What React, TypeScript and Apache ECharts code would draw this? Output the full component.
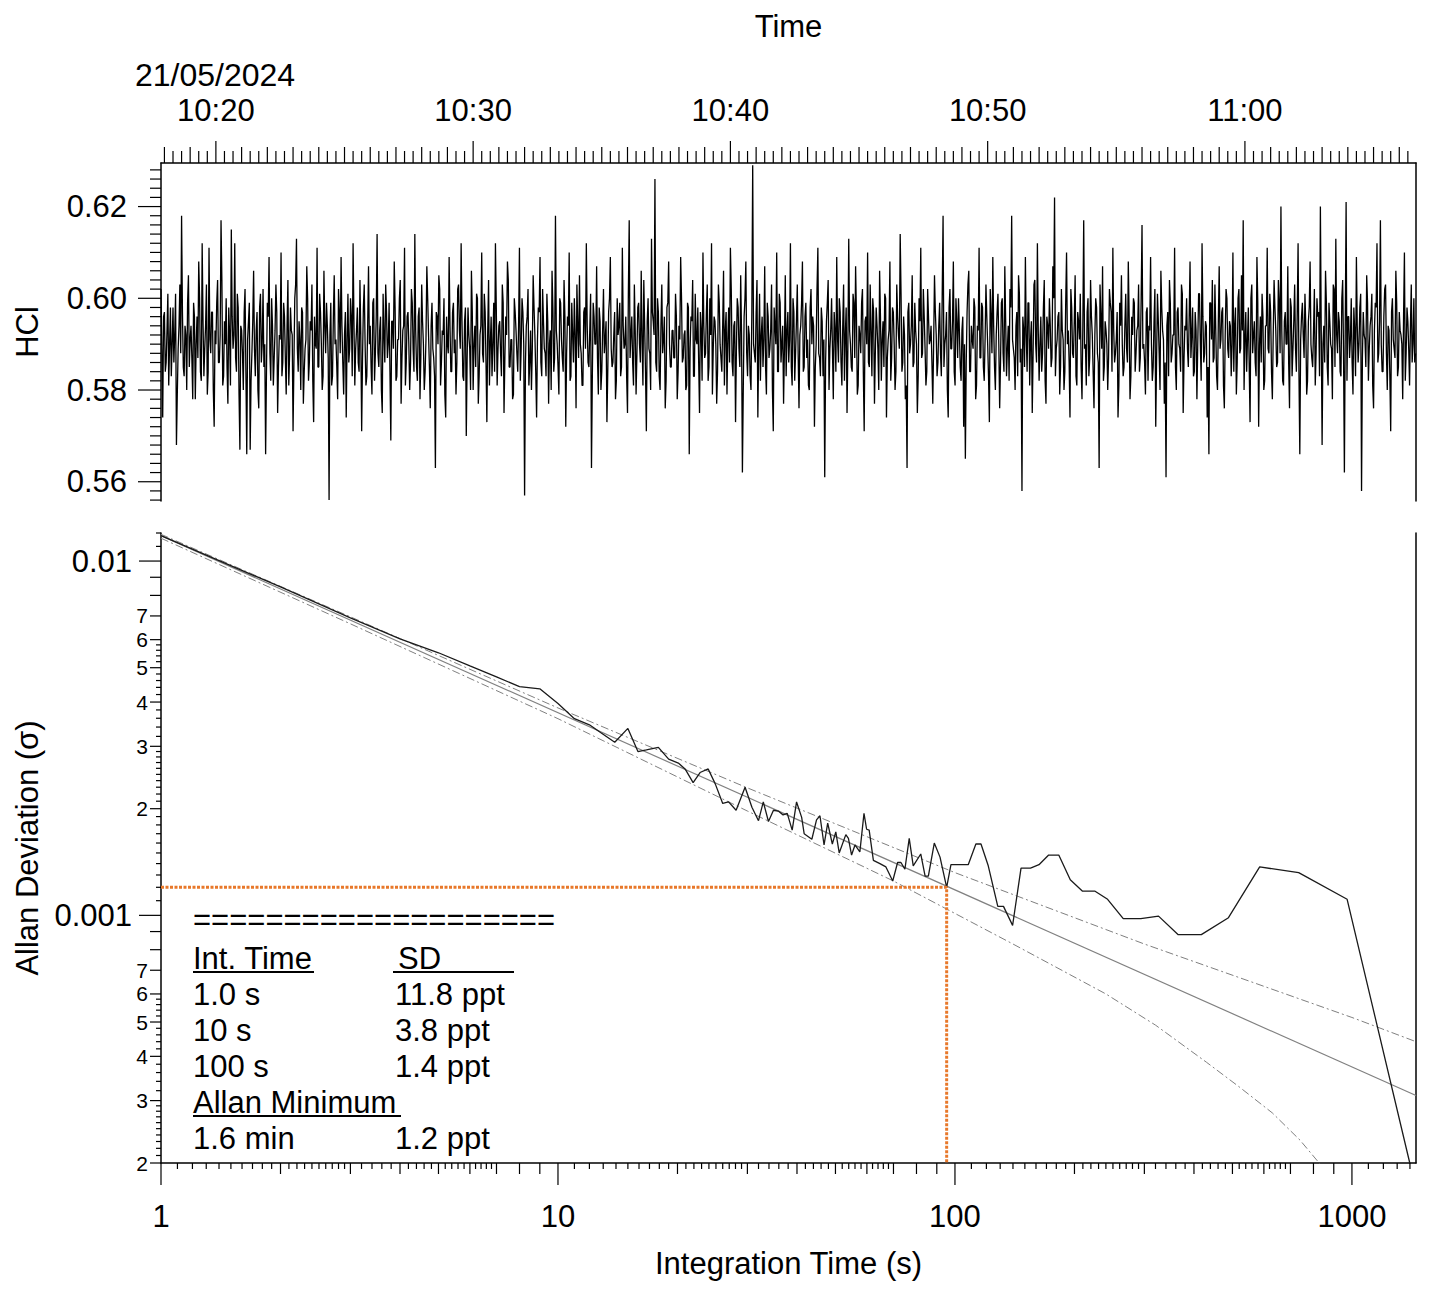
import React, { useEffect, useRef } from "react";
import * as echarts from "echarts";

const FONT = "'Liberation Sans', Arial, Helvetica, sans-serif";

// ---------- Top panel: HCl time series (2 s sampling from 10:17:52) ----------
const startTime = new Date(2024, 4, 21, 10, 17, 52).getTime();
const endTime = new Date(2024, 4, 21, 11, 6, 39).getTime();
const hclMin = 0.5558;
const hclMax = 0.6295;

// samples at t0 + 4k seconds
const hclSeg1 = [
  0.602, 0.574, 0.597, 0.586, 0.601, 0.590, 0.583, 0.598, 0.592, 0.568, 0.589, 0.603, 0.618, 0.585, 0.594, 0.580, 0.605, 0.591, 0.587, 0.599, 0.578, 0.596, 0.608, 0.584,
  0.612, 0.583, 0.594, 0.579, 0.611, 0.588, 0.597, 0.572, 0.590, 0.604, 0.586, 0.617, 0.581, 0.595, 0.600, 0.577, 0.592, 0.615, 0.589, 0.612, 0.584, 0.598, 0.567, 0.593,
  0.580, 0.602, 0.566, 0.595, 0.567, 0.588, 0.606, 0.583, 0.597, 0.576, 0.601, 0.590, 0.585, 0.566, 0.599, 0.609, 0.582, 0.594, 0.587, 0.603, 0.575, 0.592, 0.610, 0.586,
  0.596, 0.579, 0.604, 0.588, 0.593, 0.571, 0.600, 0.613, 0.584, 0.591, 0.598, 0.577, 0.589, 0.607, 0.582, 0.595, 0.603, 0.573, 0.590, 0.611, 0.585, 0.597, 0.580, 0.606,
  0.588, 0.594, 0.556, 0.599, 0.583, 0.605, 0.591, 0.578, 0.597, 0.609, 0.586, 0.592, 0.574, 0.601, 0.589, 0.596, 0.612, 0.581, 0.593, 0.586, 0.604, 0.571, 0.598, 0.590,
  0.583, 0.607, 0.594, 0.579, 0.600, 0.588, 0.614, 0.585, 0.596, 0.575, 0.592, 0.603, 0.587, 0.599, 0.569, 0.595, 0.608, 0.582, 0.591, 0.600, 0.577, 0.593, 0.611, 0.586,
  0.597, 0.580, 0.602, 0.589,
];
const hclSeg2 = [
  0.614, 0.585, 0.596, 0.578, 0.603, 0.590, 0.584, 0.607, 0.592, 0.576, 0.599, 0.587, 0.563, 0.596, 0.605, 0.581, 0.593, 0.600, 0.574, 0.590, 0.609, 0.584, 0.597, 0.588,
  0.579, 0.602, 0.593, 0.612, 0.583, 0.595, 0.570, 0.598, 0.589, 0.606, 0.580, 0.594, 0.601, 0.577, 0.592, 0.610, 0.586, 0.597, 0.573, 0.604, 0.590, 0.583, 0.599, 0.612,
  0.581, 0.594, 0.588, 0.603, 0.575, 0.596, 0.608, 0.585, 0.591, 0.578, 0.600, 0.593, 0.584, 0.611, 0.589, 0.597, 0.557, 0.594, 0.602, 0.586, 0.580, 0.605, 0.592, 0.574,
  0.598, 0.609, 0.583, 0.595, 0.588, 0.601, 0.577, 0.593, 0.606, 0.584, 0.618, 0.590, 0.579, 0.599, 0.587, 0.604, 0.572, 0.596, 0.610, 0.583, 0.592, 0.600, 0.576, 0.594,
  0.605, 0.588, 0.581, 0.598, 0.612, 0.586, 0.593, 0.563, 0.599, 0.590, 0.607, 0.579, 0.595, 0.584, 0.602, 0.591, 0.573, 0.597, 0.609, 0.585, 0.592, 0.578, 0.600, 0.594,
  0.583, 0.611, 0.589, 0.596, 0.575, 0.617, 0.592, 0.586, 0.603, 0.579, 0.598, 0.590, 0.606, 0.581, 0.594, 0.571, 0.600, 0.588, 0.613, 0.595, 0.626, 0.584, 0.597, 0.580,
  0.603, 0.591, 0.576, 0.598, 0.608, 0.585, 0.593, 0.587,
];
const hclSeg3 = [
  0.601, 0.578, 0.594, 0.609, 0.586, 0.592, 0.580, 0.599, 0.566, 0.596, 0.604, 0.583, 0.591, 0.598, 0.575, 0.593, 0.610, 0.587, 0.597, 0.582, 0.600, 0.612, 0.589, 0.595,
  0.577, 0.603, 0.590, 0.584, 0.606, 0.593, 0.579, 0.598, 0.611, 0.586, 0.594, 0.573, 0.600, 0.589, 0.605, 0.562, 0.596, 0.608, 0.583, 0.592, 0.580, 0.629, 0.588, 0.597,
  0.574, 0.601, 0.592, 0.585, 0.607, 0.579, 0.596, 0.589, 0.603, 0.571, 0.594, 0.610, 0.584, 0.599, 0.590, 0.577, 0.605, 0.593, 0.586, 0.612, 0.581, 0.597, 0.588, 0.603,
  0.576, 0.594, 0.608, 0.585, 0.599, 0.591, 0.580, 0.602, 0.596, 0.572, 0.590, 0.611, 0.587, 0.598, 0.583, 0.561, 0.595, 0.604, 0.589, 0.600, 0.578, 0.593, 0.609, 0.586,
  0.597, 0.581, 0.603, 0.592, 0.575, 0.613, 0.590, 0.584, 0.599, 0.607, 0.579, 0.594, 0.588, 0.602, 0.571, 0.596, 0.610, 0.585, 0.593, 0.600, 0.577, 0.598, 0.589, 0.606,
  0.582, 0.595, 0.601, 0.574, 0.591, 0.608, 0.587, 0.597, 0.580, 0.603, 0.592, 0.614, 0.584, 0.596, 0.578, 0.563, 0.599, 0.590, 0.605, 0.586, 0.593, 0.575, 0.600, 0.611,
  0.588, 0.596, 0.581, 0.602, 0.590, 0.594,
];
const hclSeg4 = [
  0.577, 0.605, 0.592, 0.586, 0.599, 0.583, 0.618, 0.590, 0.597, 0.574, 0.602, 0.589, 0.608, 0.581, 0.595, 0.600, 0.585, 0.593, 0.572, 0.565, 0.597, 0.606, 0.584, 0.591,
  0.600, 0.578, 0.594, 0.611, 0.587, 0.598, 0.582, 0.603, 0.590, 0.573, 0.596, 0.609, 0.585, 0.592, 0.601, 0.576, 0.599, 0.588, 0.607, 0.583, 0.594, 0.602, 0.618, 0.589,
  0.580, 0.597, 0.605, 0.586, 0.558, 0.593, 0.609, 0.584, 0.599, 0.591, 0.575, 0.603, 0.590, 0.612, 0.582, 0.596, 0.588, 0.604, 0.577, 0.594, 0.600, 0.585, 0.607, 0.622,
  0.589, 0.596, 0.579, 0.602, 0.591, 0.584, 0.610, 0.593, 0.574, 0.598, 0.587, 0.605, 0.581, 0.595, 0.601, 0.578, 0.617, 0.590, 0.597, 0.583, 0.604, 0.592, 0.576, 0.600,
  0.588, 0.563, 0.596, 0.607, 0.585, 0.593, 0.580, 0.602, 0.597, 0.611, 0.586, 0.591, 0.574, 0.599, 0.605, 0.583, 0.594, 0.589, 0.608, 0.578, 0.596, 0.600, 0.584, 0.593,
  0.603, 0.587, 0.616, 0.590, 0.579, 0.598, 0.594, 0.609, 0.582, 0.595, 0.572, 0.601, 0.588, 0.606, 0.593, 0.577, 0.561, 0.597, 0.604, 0.586, 0.592, 0.611, 0.580, 0.598,
  0.589, 0.603, 0.575, 0.594, 0.600, 0.585,
];
const hclSeg5 = [
  0.608, 0.592, 0.583, 0.597, 0.578, 0.601, 0.590, 0.612, 0.586, 0.595, 0.574, 0.566, 0.599, 0.604, 0.587, 0.593, 0.580, 0.607, 0.591, 0.598, 0.576, 0.602, 0.589, 0.595,
  0.583, 0.610, 0.594, 0.579, 0.600, 0.588, 0.605, 0.617, 0.591, 0.584, 0.598, 0.573, 0.603, 0.592, 0.586, 0.609, 0.572, 0.596, 0.601, 0.580, 0.594, 0.611, 0.588, 0.597,
  0.578, 0.604, 0.593, 0.586, 0.599, 0.620, 0.582, 0.595, 0.590, 0.607, 0.576, 0.598, 0.589, 0.603, 0.584, 0.612, 0.566, 0.596, 0.592, 0.601, 0.579, 0.595, 0.608, 0.587,
  0.593, 0.581, 0.600, 0.597, 0.620, 0.568, 0.594, 0.606, 0.585, 0.599, 0.590, 0.578, 0.602, 0.613, 0.588, 0.595, 0.583, 0.604, 0.562, 0.621, 0.596, 0.587, 0.600, 0.579,
  0.593, 0.609, 0.586, 0.598, 0.558, 0.597, 0.591, 0.605, 0.582, 0.594, 0.601, 0.576, 0.599, 0.612, 0.588, 0.617, 0.584, 0.596, 0.603, 0.580, 0.593, 0.571, 0.600, 0.589,
  0.606, 0.583, 0.597, 0.592, 0.578, 0.610, 0.588, 0.595, 0.581, 0.603, 0.590, 0.586,
];

// samples at t0 + 4k + 2 seconds
const hclOdd1 = [
  0.589, 0.596, 0.584, 0.593, 0.581, 0.598, 0.590, 0.586, 0.601, 0.579, 0.594, 0.588, 0.597, 0.583, 0.592, 0.599, 0.585, 0.594, 0.578, 0.596, 0.590, 0.587, 0.600, 0.582,
  0.595, 0.589, 0.603, 0.584, 0.591, 0.597, 0.580, 0.593, 0.599, 0.586, 0.592, 0.604, 0.583, 0.590, 0.585, 0.598, 0.581, 0.596, 0.592, 0.587, 0.601, 0.579, 0.594, 0.588,
  0.597, 0.584, 0.591, 0.599, 0.582, 0.595, 0.589, 0.593, 0.580, 0.598, 0.586, 0.602, 0.590, 0.584, 0.596, 0.588, 0.600, 0.581, 0.593, 0.597, 0.585, 0.591, 0.583, 0.599,
  0.587, 0.594, 0.581, 0.598, 0.592, 0.586, 0.603, 0.589, 0.595, 0.580, 0.597, 0.584, 0.591, 0.600, 0.586, 0.593, 0.582, 0.596, 0.589, 0.585, 0.601, 0.590, 0.583, 0.594,
  0.599, 0.587, 0.592, 0.581, 0.596, 0.590, 0.585, 0.602, 0.588, 0.594, 0.579, 0.597, 0.591, 0.586, 0.600, 0.583, 0.595, 0.589, 0.598, 0.584, 0.592, 0.587, 0.603, 0.581,
  0.594, 0.590, 0.585, 0.599, 0.582, 0.596, 0.588, 0.593, 0.580, 0.601, 0.586, 0.597, 0.590, 0.584, 0.595, 0.589, 0.598, 0.583, 0.591, 0.604, 0.587, 0.594, 0.581, 0.596,
  0.590, 0.586, 0.599, 0.584,
];
const hclOdd2 = [
  0.593, 0.582, 0.598, 0.587, 0.595, 0.580, 0.591, 0.600, 0.585, 0.594, 0.589, 0.583, 0.597, 0.590, 0.602, 0.586, 0.592, 0.579, 0.596, 0.588, 0.594, 0.584, 0.599, 0.591,
  0.586, 0.603, 0.589, 0.595, 0.582, 0.598, 0.587, 0.592, 0.580, 0.597, 0.590, 0.585, 0.600, 0.583, 0.594, 0.588, 0.601, 0.586, 0.593, 0.581, 0.596, 0.590, 0.584, 0.598,
  0.589, 0.595, 0.583, 0.599, 0.587, 0.592, 0.604, 0.585, 0.591, 0.579, 0.597, 0.588, 0.594, 0.582, 0.600, 0.590, 0.586, 0.596, 0.581, 0.593, 0.589, 0.598, 0.584, 0.591,
  0.597, 0.586, 0.602, 0.589, 0.583, 0.595, 0.590, 0.580, 0.598, 0.587, 0.593, 0.585, 0.600, 0.591, 0.584, 0.596, 0.588, 0.594, 0.582, 0.599, 0.586, 0.592, 0.603, 0.587,
  0.590, 0.581, 0.597, 0.589, 0.594, 0.585, 0.601, 0.583, 0.596, 0.590, 0.587, 0.598, 0.580, 0.593, 0.588, 0.595, 0.584, 0.600, 0.589, 0.586, 0.597, 0.582, 0.592, 0.599,
  0.585, 0.594, 0.590, 0.583, 0.601, 0.587, 0.596, 0.581, 0.593, 0.588, 0.599, 0.586, 0.591, 0.604, 0.584, 0.595, 0.589, 0.580, 0.597, 0.592, 0.586, 0.600, 0.583, 0.594,
  0.588, 0.596, 0.582, 0.599, 0.590, 0.585, 0.593, 0.587,
];
const hclOdd3 = [
  0.596, 0.584, 0.591, 0.600, 0.587, 0.593, 0.581, 0.598, 0.589, 0.595, 0.583, 0.601, 0.590, 0.586, 0.597, 0.582, 0.594, 0.588, 0.603, 0.585, 0.592, 0.579, 0.596, 0.590,
  0.584, 0.599, 0.587, 0.594, 0.581, 0.597, 0.591, 0.586, 0.602, 0.583, 0.595, 0.589, 0.598, 0.585, 0.592, 0.580, 0.600, 0.588, 0.594, 0.583, 0.597, 0.590, 0.586, 0.604,
  0.589, 0.582, 0.596, 0.591, 0.585, 0.599, 0.587, 0.593, 0.580, 0.598, 0.590, 0.584, 0.601, 0.586, 0.594, 0.589, 0.583, 0.597, 0.591, 0.585, 0.600, 0.582, 0.595, 0.588,
  0.592, 0.599, 0.584, 0.596, 0.587, 0.581, 0.598, 0.590, 0.594, 0.585, 0.602, 0.588, 0.583, 0.595, 0.591, 0.586, 0.599, 0.580, 0.593, 0.589, 0.597, 0.584, 0.591, 0.600,
  0.586, 0.594, 0.582, 0.598, 0.589, 0.593, 0.585, 0.601, 0.587, 0.596, 0.581, 0.592, 0.599, 0.584, 0.595, 0.590, 0.586, 0.603, 0.583, 0.597, 0.588, 0.594, 0.580, 0.596,
  0.591, 0.585, 0.600, 0.587, 0.593, 0.582, 0.598, 0.590, 0.584, 0.596, 0.589, 0.601, 0.586, 0.592, 0.581, 0.597, 0.588, 0.594, 0.585, 0.599, 0.590, 0.583, 0.595, 0.587,
  0.602, 0.589, 0.584, 0.596, 0.591, 0.586,
];
const hclOdd4 = [
  0.590, 0.597, 0.583, 0.594, 0.588, 0.601, 0.585, 0.592, 0.580, 0.598, 0.589, 0.595, 0.584, 0.600, 0.587, 0.593, 0.582, 0.596, 0.590, 0.586, 0.603, 0.584, 0.594, 0.589,
  0.598, 0.581, 0.593, 0.587, 0.599, 0.585, 0.591, 0.596, 0.583, 0.602, 0.588, 0.594, 0.580, 0.597, 0.590, 0.586, 0.600, 0.584, 0.595, 0.589, 0.582, 0.598, 0.591, 0.587,
  0.594, 0.583, 0.601, 0.589, 0.596, 0.585, 0.592, 0.599, 0.581, 0.595, 0.588, 0.604, 0.586, 0.593, 0.590, 0.584, 0.598, 0.582, 0.596, 0.589, 0.594, 0.587, 0.600, 0.583,
  0.591, 0.597, 0.585, 0.593, 0.580, 0.599, 0.590, 0.586, 0.602, 0.588, 0.595, 0.583, 0.597, 0.591, 0.585, 0.594, 0.589, 0.581, 0.600, 0.587, 0.596, 0.584, 0.592, 0.598,
  0.586, 0.603, 0.589, 0.582, 0.595, 0.590, 0.587, 0.599, 0.584, 0.593, 0.588, 0.597, 0.581, 0.594, 0.590, 0.585, 0.601, 0.586, 0.596, 0.583, 0.592, 0.599, 0.588, 0.594,
  0.584, 0.600, 0.589, 0.586, 0.597, 0.582, 0.593, 0.590, 0.585, 0.602, 0.587, 0.595, 0.580, 0.598, 0.591, 0.586, 0.594, 0.583, 0.599, 0.588, 0.592, 0.585, 0.597, 0.590,
  0.584, 0.601, 0.587, 0.593, 0.589, 0.596,
];
const hclOdd5 = [
  0.587, 0.598, 0.584, 0.593, 0.590, 0.601, 0.582, 0.596, 0.588, 0.594, 0.585, 0.599, 0.591, 0.586, 0.603, 0.583, 0.595, 0.589, 0.597, 0.581, 0.592, 0.600, 0.587, 0.594,
  0.590, 0.584, 0.598, 0.586, 0.602, 0.589, 0.593, 0.580, 0.597, 0.591, 0.585, 0.600, 0.588, 0.595, 0.583, 0.599, 0.590, 0.586, 0.596, 0.582, 0.594, 0.589, 0.601, 0.584,
  0.592, 0.598, 0.585, 0.604, 0.588, 0.593, 0.581, 0.597, 0.590, 0.586, 0.600, 0.583, 0.595, 0.589, 0.597, 0.584, 0.591, 0.599, 0.587, 0.594, 0.582, 0.598, 0.590, 0.585,
  0.602, 0.588, 0.596, 0.583, 0.593, 0.590, 0.586, 0.599, 0.581, 0.595, 0.589, 0.603, 0.585, 0.592, 0.597, 0.584, 0.600, 0.588, 0.594, 0.582, 0.596, 0.591, 0.586, 0.598,
  0.583, 0.594, 0.590, 0.601, 0.587, 0.592, 0.585, 0.599, 0.589, 0.596, 0.581, 0.593, 0.598, 0.586, 0.595, 0.590, 0.584, 0.602, 0.588, 0.594, 0.583, 0.597, 0.591, 0.587,
  0.599, 0.585, 0.593, 0.590, 0.596, 0.582, 0.598, 0.589, 0.594, 0.586, 0.600, 0.588,
];

const timeLabels = ["10:20", "10:30", "10:40", "10:50", "11:00"];
const hclLabels = [0.56, 0.58, 0.6, 0.62];
const dateLabel = "21/05/2024";

// ---------- Bottom panel: Allan deviation ----------
const tauMin = 1;
const tauMax = 1450;
const sigmaMin = 0.0002;
const sigmaMax = 0.012;

const allanTau = [
  1, 2, 3, 4, 5, 6, 7, 8, 9, 10,
  11.0, 12.0, 12.8, 13.9, 15.0, 15.9, 16.7, 17.9, 19.0, 20.1,
  20.9, 21.9, 22.8, 23.9, 24.9, 26.0, 26.9, 28.1, 29.6, 30.8,
  32.0, 32.9, 33.9, 34.9, 35.9, 36.9, 37.8, 38.9, 39.9, 41.1,
  41.7, 43.6, 44.8, 45.7, 46.8, 47.8, 49.1, 50.1, 51.1, 53.1,
  53.9, 54.9, 56.0, 57.6, 59.0, 59.9, 60.8, 62.3, 64.7, 67.0,
  69.7, 71.7, 73.1, 74.8, 76.7, 78.5, 82.0, 84.1, 85.7, 88.7,
  91.7, 95.3, 97.7, 108, 112.9, 116.3, 121.3, 128.2, 132.5, 139.7,
  146.7, 155, 162.8, 172.2, 182.6, 195.2, 209.6, 225.4, 242.4, 265.4,
  293.9, 325.7, 365.1, 417.4, 488.6, 585.6, 734.2, 972.5, 1400,
];
const allanSigma = [
  0.0118, 0.00845, 0.00691, 0.00603, 0.00551, 0.00506, 0.00471, 0.00442, 0.00436, 0.00396,
  0.00359, 0.00345, 0.00328, 0.00308, 0.00337, 0.0029, 0.00293, 0.00298, 0.00276, 0.00269,
  0.00259, 0.00237, 0.00253, 0.00259, 0.00235, 0.00207, 0.00209, 0.00198, 0.0023, 0.00202,
  0.00185, 0.00209, 0.00184, 0.00198, 0.00197, 0.00192, 0.00194, 0.00174, 0.00209, 0.00189,
  0.0017, 0.00164, 0.00186, 0.00191, 0.00158, 0.00182, 0.00159, 0.00172, 0.0015, 0.00169,
  0.00165, 0.00148, 0.00158, 0.00151, 0.00194, 0.00175, 0.00174, 0.00143, 0.0014, 0.00137,
  0.00125, 0.00141, 0.00141, 0.00135, 0.00165, 0.00138, 0.00149, 0.00129, 0.00129, 0.0016,
  0.00146, 0.0012, 0.00139, 0.00139, 0.00159, 0.00159, 0.00138, 0.00106, 0.00106, 0.000937,
  0.00136, 0.00136, 0.00139, 0.00148, 0.00148, 0.00126, 0.00117, 0.00117, 0.00111, 0.000979,
  0.000979, 0.000995, 0.000882, 0.000882, 0.000985, 0.00137, 0.00132, 0.00111, 0.000199,
];

// white-noise fit (slope -1/2)
const fitTau = [1, 1450];
const fitSigma = [0.0118, 0.00031];

// confidence envelope (dash-dot)
const upperTau = [1, 3, 10, 30, 100, 300, 1000, 1450];
const upperSigma = [0.0119, 0.00696, 0.00385, 0.00229, 0.00132, 0.00083, 0.000515, 0.00044];
const lowerTau = [1, 3, 10, 30, 70, 140, 240, 320, 430, 520, 630, 740, 830, 900];
const lowerSigma = [0.0116, 0.00665, 0.00359, 0.00197, 0.00125, 0.00083, 0.0006, 0.00049, 0.000385, 0.000328, 0.000277, 0.000232, 0.000199, 0.000175];

// Allan minimum marker
const allanMinTau = 95.3;
const allanMinSigma = 0.0012;

// Annotation table
const separator = "====================";
const tableHeader = ["Int. Time", "SD"];
const tableRows = [
  ["1.0 s", "11.8 ppt"],
  ["10 s", "3.8 ppt"],
  ["100 s", "1.4 ppt"],
];
const minHeader = "Allan Minimum";
const minRow = ["1.6 min", "1.2 ppt"];

// Log axis tick mantissas
const logDecadesX = [1, 10, 100, 1000];
const logDecadesY = [0.0001, 0.001, 0.01];
const mediumMantissa = [2, 3, 4, 5, 6, 7, 8, 9];
const shortMantissaX = [1.1, 1.2, 1.3, 1.4, 1.5, 1.6, 1.7, 1.8, 1.9, 2.1, 2.2, 2.3, 2.4, 2.5, 2.6, 2.7, 2.8, 2.9, 3.2, 3.4, 3.6, 3.8, 4.2, 4.4, 4.6, 4.8, 5.2, 5.4, 5.6, 5.8, 6.2, 6.4, 6.6, 6.8];
const shortMantissaY = [1.1, 1.2, 1.3, 1.4, 1.5, 1.6, 1.7, 1.8, 1.9, 2.1, 2.2, 2.3, 2.4, 2.5, 2.6, 2.7, 2.8, 2.9, 3.2, 3.4, 3.6, 3.8, 4.2, 4.4, 4.6, 4.8, 5.2, 5.4, 5.6, 5.8];
const labelledMantissaY = [2, 3, 4, 5, 6, 7];

const hclEven = [...hclSeg1, ...hclSeg2, ...hclSeg3, ...hclSeg4, ...hclSeg5];
const hclOdd = [...hclOdd1, ...hclOdd2, ...hclOdd3, ...hclOdd4, ...hclOdd5];
const hclData: number[][] = [];
hclEven.forEach((v, i) => {
  hclData.push([startTime + i * 4000, v]);
  if (i < hclOdd.length) hclData.push([startTime + i * 4000 + 2000, hclOdd[i]]);
});
const zip = (a: number[], b: number[]) => a.map((v, i) => [v, b[i]]);
const labelTime = (s: string) => {
  const [h, m] = s.split(":").map(Number);
  return new Date(2024, 4, 21, h, m, 0).getTime();
};

const pad2 = (n: number) => (n < 10 ? "0" + n : "" + n);

function App() {
  const ref = useRef<HTMLDivElement>(null);
  useEffect(() => {
    if (!ref.current) return;
    const chart = echarts.init(ref.current, null, { renderer: "svg" });

    const tickLine = (x1: number, y1: number, x2: number, y2: number) => ({
      type: "line",
      shape: { x1, y1, x2, y2 },
      style: { stroke: "#000", lineWidth: 1.2 },
    });

    const renderTopTicks = (params: any, api: any) => {
      const children: any[] = [];
      const corner = api.coord([startTime, hclMax]);
      const left = corner[0];
      const top = corner[1];
      const first = new Date(2024, 4, 21, 10, 18, 0).getTime();
      for (let t = first; t <= endTime; t += 20000) {
        const d = new Date(t);
        const sec = d.getSeconds();
        const min = d.getMinutes();
        let len = 12;
        if (sec === 0) len = min % 10 === 0 ? 22 : 16;
        const px = api.coord([t, hclMax])[0];
        children.push(tickLine(px, top, px, top - len));
      }
      for (let k = 278; k <= 314; k++) {
        const v = k * 0.002;
        if (v < hclMin || v > hclMax) continue;
        const major = k % 10 === 0;
        const py = api.coord([startTime, v])[1];
        children.push(tickLine(left - (major ? 23 : 11), py, left, py));
      }
      return { type: "group", children };
    };

    const renderLogTicks = (params: any, api: any) => {
      const children: any[] = [];
      const corner = api.coord([tauMin, sigmaMin]);
      const left = corner[0];
      const bottom = corner[1];
      logDecadesX.forEach((dec) => {
        if (dec >= tauMin && dec <= tauMax) {
          const px = api.coord([dec, sigmaMin])[0];
          children.push(tickLine(px, bottom, px, bottom + 22));
        }
        mediumMantissa.forEach((m) => {
          const v = m * dec;
          if (v < tauMin || v > tauMax) return;
          const px = api.coord([v, sigmaMin])[0];
          children.push(tickLine(px, bottom, px, bottom + 11));
        });
        shortMantissaX.forEach((m) => {
          const v = m * dec;
          if (v < tauMin || v > tauMax) return;
          const px = api.coord([v, sigmaMin])[0];
          children.push(tickLine(px, bottom, px, bottom + 6));
        });
      });
      logDecadesY.forEach((dec) => {
        if (dec >= sigmaMin && dec <= sigmaMax) {
          const py = api.coord([tauMin, dec])[1];
          children.push(tickLine(left - 22, py, left, py));
        }
        mediumMantissa.forEach((m) => {
          const v = m * dec;
          if (v < sigmaMin * 0.999 || v > sigmaMax) return;
          const py = api.coord([tauMin, v])[1];
          children.push(tickLine(left - 11, py, left, py));
          if (labelledMantissaY.indexOf(m) >= 0) {
            children.push({
              type: "text",
              x: left - 13,
              y: py,
              style: {
                text: String(m),
                fill: "#000",
                fontSize: 21,
                fontFamily: FONT,
                align: "right",
                verticalAlign: "middle",
              },
            });
          }
        });
        shortMantissaY.forEach((m) => {
          const v = m * dec;
          if (v < sigmaMin || v > sigmaMax) return;
          const py = api.coord([tauMin, v])[1];
          children.push(tickLine(left - 5, py, left, py));
        });
      });
      return { type: "group", children };
    };

    const axisLineStyle = { show: true, onZero: false, lineStyle: { color: "#000", width: 1.5 } };
    const labelStyle = { color: "#000", fontSize: 31, fontFamily: FONT };
    const nameStyle = { color: "#000", fontSize: 31, fontFamily: FONT };

    const txt = (text: string, x: number, y: number, extra: any = {}) => ({
      type: "text",
      x,
      y,
      silent: true,
      style: { text, fill: "#000", fontSize: 31, fontFamily: FONT, align: "left", verticalAlign: "middle", ...extra },
    });
    const uline = (x1: number, x2: number, y: number) => ({
      type: "line",
      silent: true,
      shape: { x1, y1: y, x2, y2: y },
      style: { stroke: "#000", lineWidth: 2 },
    });

    const rowY = [994, 1030, 1066];
    const graphicEls: any[] = [
      txt(dateLabel, 135, 75, { fontSize: 32 }),
      txt(separator, 193, 919),
      txt(tableHeader[0], 193, 958),
      txt(tableHeader[1], 398, 958),
      uline(193, 314, 972),
      uline(393, 514, 972),
      ...tableRows.flatMap((r, i) => [txt(r[0], 193, rowY[i]), txt(r[1], 395, rowY[i])]),
      txt(minHeader, 193, 1102),
      uline(193, 401, 1116),
      txt(minRow[0], 193, 1138),
      txt(minRow[1], 395, 1138),
    ];

    const option: any = {
      animation: false,
      backgroundColor: "#fff",
      textStyle: { fontFamily: FONT },
      grid: [
        { left: 161, top: 163, width: 1255, height: 338, containLabel: false, outerBoundsMode: "none" },
        { left: 161, top: 533, width: 1255, height: 630, containLabel: false, outerBoundsMode: "none" },
      ],
      xAxis: [
        {
          gridIndex: 0,
          type: "value",
          position: "top",
          min: startTime,
          max: endTime,
          axisLine: axisLineStyle,
          axisTick: { show: false },
          splitLine: { show: false },
          axisLabel: {
            ...labelStyle,
            margin: 37,
            customValues: timeLabels.map(labelTime),
            formatter: (v: number) => {
              const d = new Date(v);
              return pad2(d.getHours()) + ":" + pad2(d.getMinutes());
            },
          },
          name: "Time",
          nameLocation: "middle",
          nameGap: 121,
          nameTextStyle: nameStyle,
        },
        {
          gridIndex: 1,
          type: "log",
          logBase: 10,
          position: "bottom",
          min: tauMin,
          max: tauMax,
          axisLine: axisLineStyle,
          axisTick: { show: false },
          splitLine: { show: false },
          minorTick: { show: false },
          axisLabel: {
            ...labelStyle,
            margin: 38,
            showMinLabel: true,
            showMaxLabel: false,
            formatter: (v: number) => String(Math.round(v)),
          },
          name: "Integration Time (s)",
          nameLocation: "middle",
          nameGap: 85,
          nameTextStyle: nameStyle,
        },
      ],
      yAxis: [
        {
          gridIndex: 0,
          type: "value",
          min: hclMin,
          max: hclMax,
          axisLine: axisLineStyle,
          axisTick: { show: false },
          splitLine: { show: false },
          axisLabel: {
            ...labelStyle,
            margin: 34,
            customValues: hclLabels,
            formatter: (v: number) => v.toFixed(2),
          },
          name: "HCl",
          nameLocation: "middle",
          nameGap: 118,
          nameTextStyle: nameStyle,
        },
        {
          gridIndex: 0,
          type: "value",
          position: "right",
          min: 0,
          max: 1,
          axisLine: axisLineStyle,
          axisTick: { show: false },
          axisLabel: { show: false },
          splitLine: { show: false },
        },
        {
          gridIndex: 1,
          type: "log",
          logBase: 10,
          min: sigmaMin,
          max: sigmaMax,
          axisLine: axisLineStyle,
          axisTick: { show: false },
          splitLine: { show: false },
          minorTick: { show: false },
          axisLabel: {
            ...labelStyle,
            margin: 29,
            showMinLabel: false,
            showMaxLabel: false,
            formatter: (v: number) => String(parseFloat(v.toPrecision(2))),
          },
          name: "Allan Deviation (σ)",
          nameLocation: "middle",
          nameGap: 118,
          nameTextStyle: nameStyle,
        },
        {
          gridIndex: 1,
          type: "value",
          position: "right",
          min: 0,
          max: 1,
          axisLine: axisLineStyle,
          axisTick: { show: false },
          axisLabel: { show: false },
          splitLine: { show: false },
        },
      ],
      series: [
        {
          name: "HCl",
          type: "line",
          xAxisIndex: 0,
          yAxisIndex: 0,
          data: hclData,
          symbol: "none",
          showSymbol: false,
          silent: true,
          lineStyle: { color: "#000", width: 1.3 },
        },
        {
          type: "custom",
          xAxisIndex: 0,
          yAxisIndex: 0,
          data: [[startTime, hclMax]],
          renderItem: renderTopTicks,
          clip: false,
          silent: true,
          z: 5,
        },
        {
          name: "Fit",
          type: "line",
          xAxisIndex: 1,
          yAxisIndex: 2,
          data: zip(fitTau, fitSigma),
          symbol: "none",
          silent: true,
          lineStyle: { color: "#808080", width: 1.2 },
        },
        {
          name: "Upper",
          type: "line",
          xAxisIndex: 1,
          yAxisIndex: 2,
          data: zip(upperTau, upperSigma),
          symbol: "none",
          silent: true,
          lineStyle: { color: "#808080", width: 1, type: [8, 3, 2, 3] },
        },
        {
          name: "Lower",
          type: "line",
          xAxisIndex: 1,
          yAxisIndex: 2,
          data: zip(lowerTau, lowerSigma),
          symbol: "none",
          silent: true,
          lineStyle: { color: "#808080", width: 1, type: [8, 3, 2, 3] },
        },
        {
          name: "Allan Deviation",
          type: "line",
          xAxisIndex: 1,
          yAxisIndex: 2,
          data: zip(allanTau, allanSigma),
          symbol: "none",
          silent: true,
          lineStyle: { color: "#1a1a1a", width: 1.3 },
        },
        {
          name: "Allan Minimum",
          type: "line",
          xAxisIndex: 1,
          yAxisIndex: 2,
          data: [
            [tauMin, allanMinSigma],
            [allanMinTau, allanMinSigma],
            [allanMinTau, sigmaMin],
          ],
          symbol: "none",
          silent: true,
          lineStyle: { color: "#e8782a", width: 3, type: [3, 1.5] },
        },
        {
          type: "custom",
          xAxisIndex: 1,
          yAxisIndex: 2,
          data: [[tauMin, sigmaMin]],
          renderItem: renderLogTicks,
          clip: false,
          silent: true,
          z: 5,
        },
      ],
      graphic: graphicEls,
    };

    chart.setOption(option);
    return () => chart.dispose();
  }, []);

  return (
    <div
      ref={ref}
      style={{ position: "fixed", left: 0, top: 0, width: 1432, height: 1294, background: "#fff" }}
    />
  );
}

export default App;
